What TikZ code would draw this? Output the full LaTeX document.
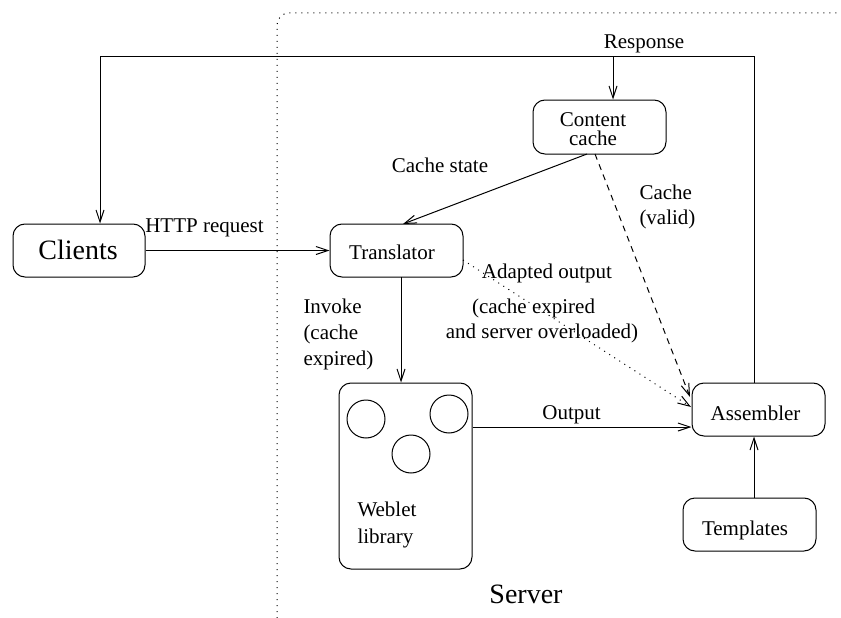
\documentclass[tikz,border=0pt]{standalone}
\usepackage{fontspec}
\setmainfont{Liberation Serif}
\newfontfamily\figfont{Liberation Serif}
\usetikzlibrary{arrows.meta}

\begin{document}
\begin{tikzpicture}[x=1pt,y=-1pt,
  line width=1pt,
  box/.style={draw, rounded corners=12pt, minimum width=133pt, minimum height=53pt, inner sep=0pt},
  txt/.style={anchor=base, inner sep=0pt, font=\figfont\fontsize{21}{24}\selectfont},
  bigtxt/.style={anchor=base, inner sep=0pt, font=\figfont\fontsize{28}{32}\selectfont},
  ltxt/.style={txt, anchor=base west},
  flow/.style={-{Straight Barb[length=12pt,width=8pt]}},
  dotline/.style={dash pattern=on 1pt off 5pt},
  dashline/.style={dash pattern=on 6pt off 5pt},
]
\useasboundingbox (0,0) rectangle (841,618);

% server boundary
\draw[dotline, rounded corners=12pt] (277,618) -- (277,13) -- (841,13);

% components
\node[box, minimum width=132pt] (clients) at (79,250.5) {};
\node[box] (translator) at (396.5,250.5) {};
\node[box, minimum height=54pt] (cache) at (599.5,127) {};
\node[box, minimum height=186pt] (weblet) at (405.5,476) {};
\node[box] (assembler) at (758.5,409.5) {};
\node[box] (templates) at (749.5,524.5) {};

% weblets inside the library
\node[draw, circle, minimum size=38pt, inner sep=0pt] (w1) at (366,419) {};
\node[draw, circle, minimum size=38pt, inner sep=0pt] (w2) at (449,414) {};
\node[draw, circle, minimum size=38pt, inner sep=0pt] (w3) at (411,454) {};

% component texts
\node[bigtxt] (tclients) at (78,259) {Clients};
\node[txt] (ttranslator) at (392,259) {Translator};
\node[txt] (tcache1) at (593,126) {Content};
\node[txt] (tcache2) at (593,145) {cache};
\node[ltxt] (tweb1) at (357,516.5) {Weblet};
\node[ltxt] (tweb2) at (357,543) {library};
\node[txt] (tassembler) at (755.5,420) {Assembler};
\node[txt] (ttemplates) at (745,535) {Templates};
\node[bigtxt] (tserver) at (526,603) {Server};

% response path
\coordinate (rtop) at (754,57);
\coordinate (ltop) at (100,57);
\coordinate (ctop) at (613,57);
\draw (assembler.north -| rtop) -- (rtop) -- (ltop);
\draw[flow] (ltop) -- (clients.north -| ltop);
\draw[flow] (ctop) -- (cache.north -| ctop);
\node[txt] (lresponse) at (644,49) {Response};

% request path
\draw[flow] (clients.east) -- (translator.west);
\node[txt] (lhttp) at (204.5,232) {HTTP request};

\coordinate (cs1) at (587,154);
\coordinate (cs2) at (403,224);
\draw[flow] (cs1) -- (cs2);
\node[txt] (lstate) at (440,172) {Cache state};

\coordinate (inv) at (401,277);
\draw[flow] (inv) -- (weblet.north -| inv);
\node[ltxt] (linv1) at (303,313) {Invoke};
\node[ltxt] (linv2) at (303,339) {(cache};
\node[ltxt] (linv3) at (303,365) {expired)};

\coordinate (cv1) at (595,154);
\coordinate (cv2) at (690,397);
\draw[flow, dashline] (cv1) -- (cv2);
\node[ltxt] (lcv1) at (639,199) {Cache};
\node[ltxt] (lcv2) at (639,224) {(valid)};

\coordinate (ad1) at (463,260);
\coordinate (ad2) at (691,407);
\draw[flow, dotline] (ad1) -- (ad2);
\node[txt] (lad1) at (547,278) {Adapted output};
\node[txt] (lad2) at (533.5,313) {(cache expired};
\node[txt] (lad3) at (542,338) {and server overloaded)};

\coordinate (out) at (0,427);
\draw[flow] (weblet.east |- out) -- (assembler.west |- out);
\node[txt] (lout) at (571.5,419) {Output};

\draw[flow] (templates.north -| rtop) -- (assembler.south -| rtop);
\end{tikzpicture}
\end{document}
